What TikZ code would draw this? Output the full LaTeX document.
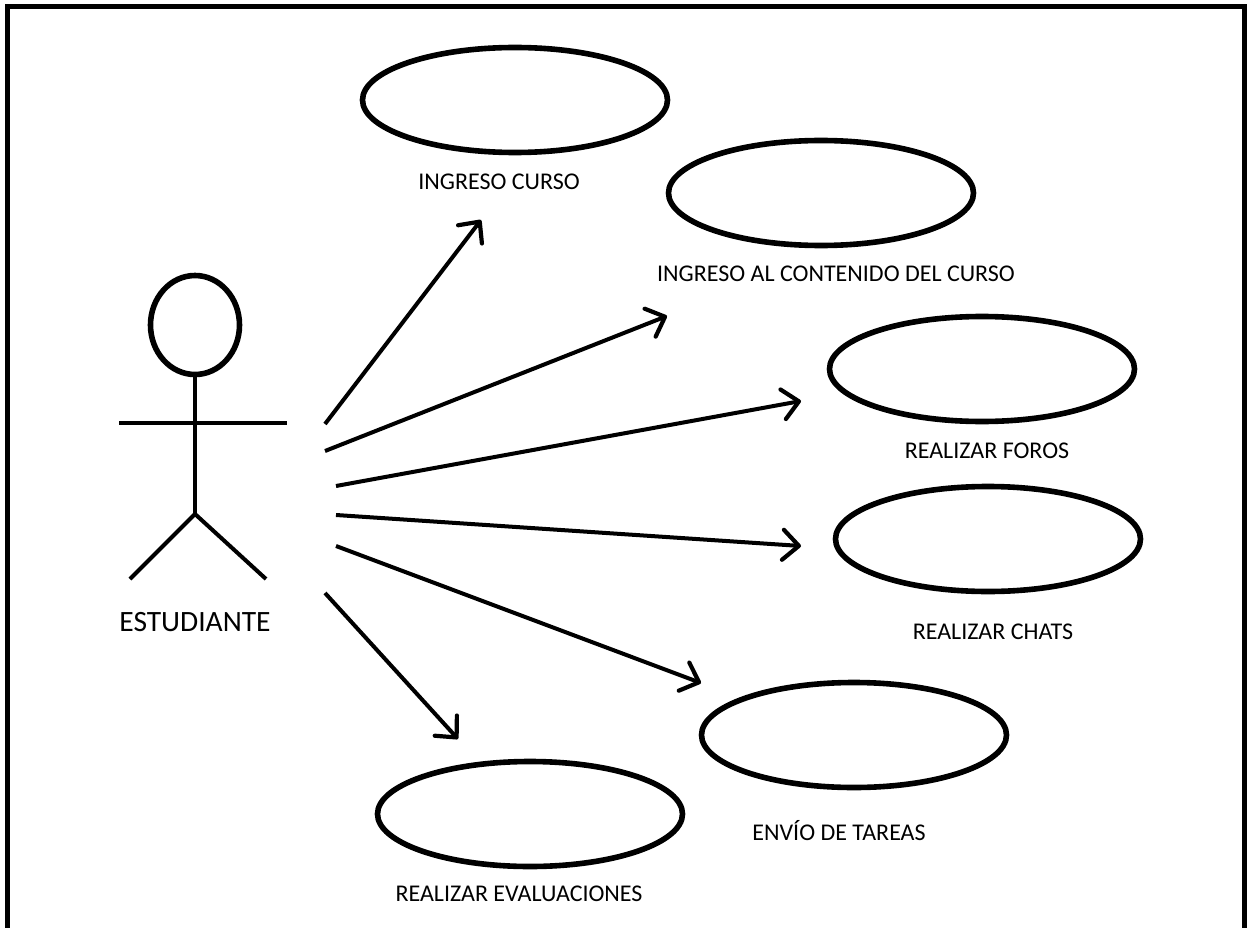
\documentclass[tikz,border=0pt]{standalone}
\usepackage{fontspec}
\setmainfont{Carlito}
\usetikzlibrary{arrows.meta,shapes.geometric}
\begin{document}
\begin{tikzpicture}[x=1pt,y=-1pt,
  uc/.style={draw,line width=5.6pt,ellipse,minimum width=305pt,minimum height=105pt,inner sep=0pt},
  lbl/.style={font=\fontsize{24}{26}\selectfont,inner sep=0pt,anchor=center},
  arr/.style={line width=4pt,-{Straight Barb[length=16pt,width=30pt,line width=4.2pt,round]}},
  limb/.style={line width=4pt}]
\useasboundingbox (0,0) rectangle (1247,928);
\draw[line width=5pt] (7.5,928) -- (7.5,6.5) -- (1244.5,6.5) -- (1244.5,928);
\node[uc] (a) at (515,100) {};
\node[uc] (b) at (821,193) {};
\node[uc] (c) at (982,369) {};
\node[uc] (d) at (988,539) {};
\node[uc] (e) at (854,735) {};
\node[uc] (f) at (530,814) {};
\node[lbl] (la) at (499,182) {INGRESO CURSO};
\node[lbl] (lb) at (836,274) {INGRESO AL CONTENIDO DEL CURSO};
\node[lbl] (lc) at (987,451) {REALIZAR FOROS};
\node[lbl] (ld) at (993,632) {REALIZAR CHATS};
\node[lbl] (le) at (839,831) {ENVÍO DE TAREAS};
\node[lbl] (lf) at (519,894) {REALIZAR EVALUACIONES};
\node[lbl,font=\fontsize{29.5}{32}\selectfont] (est) at (195,622) {ESTUDIANTE};
\node[draw,line width=5.6pt,ellipse,minimum width=89pt,minimum height=99pt,inner sep=0pt] (head) at (195,325) {};
\coordinate (hip) at (195,514);
\coordinate (armL) at (119,423);
\coordinate (armR) at (287,423);
\coordinate (footL) at (130,579);
\coordinate (footR) at (266,579);
\draw[limb] (head.south) -- (hip);
\draw[limb] (armL) -- (armR);
\draw[limb] (footL) -- (hip) -- (footR);
\coordinate (s1) at (325,424); \coordinate (t1) at (481,220);
\coordinate (s2) at (325,451); \coordinate (t2) at (667,316);
\coordinate (s3) at (336,486); \coordinate (t3) at (801,401);
\coordinate (s4) at (336,515); \coordinate (t4) at (801,546);
\coordinate (s5) at (336,546); \coordinate (t5) at (701,683);
\coordinate (s6) at (325,593); \coordinate (t6) at (458,739);
\draw[arr] (s1) -- (t1);
\draw[arr] (s2) -- (t2);
\draw[arr] (s3) -- (t3);
\draw[arr] (s4) -- (t4);
\draw[arr] (s5) -- (t5);
\draw[arr] (s6) -- (t6);
\end{tikzpicture}
\end{document}
